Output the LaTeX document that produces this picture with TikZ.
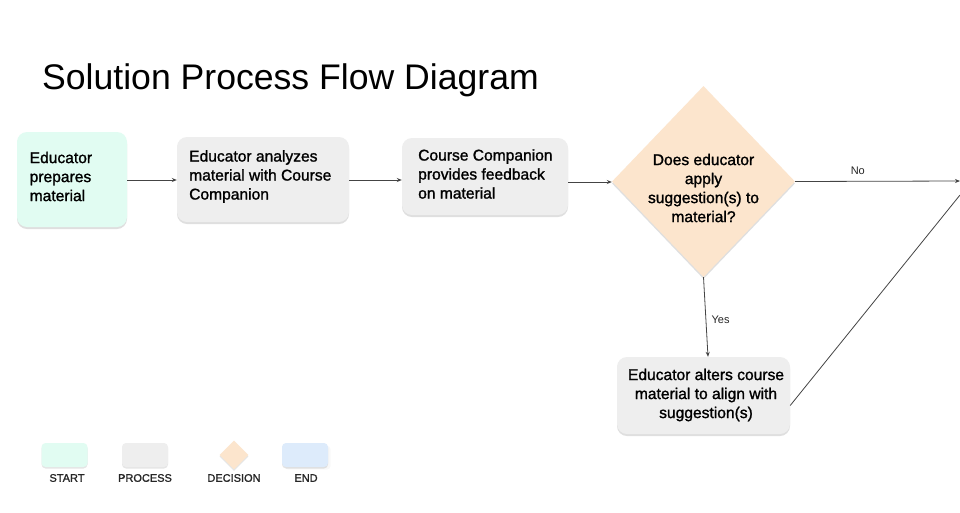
\documentclass[tikz,border=0pt]{standalone}
\usepackage{fontspec}
\setmainfont{Liberation Sans}
\newfontfamily\medfont[FakeBold=1.3]{Liberation Sans}
\usetikzlibrary{shapes.geometric,shadows,arrows.meta}
\definecolor{startc}{HTML}{E1FCF2}
\definecolor{procc}{HTML}{EEEEEE}
\definecolor{decc}{HTML}{FCE5CD}
\definecolor{endc}{HTML}{DDEBFB}
\definecolor{linec}{HTML}{444444}
\tikzset{
  box/.style={draw=none, rounded corners=10pt, inner sep=0pt,
    drop shadow={opacity=0.25, shadow xshift=0pt, shadow yshift=-2pt}},
  boxtext/.style={font=\medfont\fontsize{15.6}{19}\selectfont, inner sep=0pt},
  startbox/.style={box, fill=startc},
  procbox/.style={box, fill=procc},
  decbox/.style={diamond, fill=decc, inner sep=0pt, draw=none,
    drop shadow={opacity=0.25, shadow xshift=0pt, shadow yshift=-2pt}},
  legbox/.style={rounded corners=4pt, minimum width=46pt, minimum height=24pt, inner sep=0pt,
    drop shadow={opacity=0.2, shadow xshift=0pt, shadow yshift=-1.5pt}},
  leglabel/.style={font=\medfont\fontsize{11}{13}\selectfont, text=black!85},
  conn/.style={draw=linec, line width=0.8pt, -{Stealth[length=5pt,width=4pt]}},
  plain/.style={draw=linec, line width=0.8pt},
  edgelabel/.style={font=\fontsize{11}{13}\selectfont, text=black!85}
}
\begin{document}
\begin{tikzpicture}[x=1pt,y=-1pt]
\useasboundingbox (0,0) rectangle (960,512);
\fill[white] (0,0) rectangle (960,512);

\node[anchor=base west, font=\fontsize{35.6}{40}\selectfont, inner sep=0pt] (title) at (42,89) {Solution Process Flow Diagram};

% boxes
\node[startbox, minimum width=110pt, minimum height=95pt] (s) at (72,179.5) {};
\node[procbox, minimum width=172pt, minimum height=85pt] (p1) at (263,179.5) {};
\node[procbox, minimum width=166pt, minimum height=77pt] (p2) at (485,176.5) {};
\node[decbox, minimum width=183pt, minimum height=191pt] (d) at (703.5,181.5) {};
\node[procbox, minimum width=173pt, minimum height=77pt] (a) at (703.5,395.5) {};

% texts
\node[boxtext, anchor=west, align=left] (st) at (29.5,176.5) {Educator\\prepares\\material};
\node[boxtext, anchor=west, align=left] (p1t) at (189,176.5) {Educator analyzes\\material with Course\\Companion};
\node[boxtext, anchor=west, align=left] (p2t) at (418,174) {Course Companion\\provides feedback\\on material};
\node[boxtext, align=center] (dt) at (703.5,188) {Does educator\\apply\\suggestion(s) to\\material?};
\node[boxtext, align=center] (at) at (706,395) {Educator alters course\\material to align with\\suggestion(s)};

\coordinate (noend) at (960,181);
\coordinate (diagend) at (960,195);

\draw[conn] (s.east |- 0,180) -- (p1.west |- 0,180);
\draw[conn] (p1.east |- 0,180) -- (p2.west |- 0,180);
\draw[conn] (p2.east |- 0,182) -- (d.west |- 0,182);
\draw[conn] (d.east) -- node[edgelabel, above=3pt, pos=0.38] (nolab) {No} (noend);
\draw[conn] (d.south) -- node[edgelabel, right=2pt, pos=0.53] (yeslab) {Yes} ([xshift=4.5pt]a.north);
\draw[plain] ([yshift=-10pt]a.east) -- (diagend);

% legend
\node[legbox, fill=startc] (ls) at (64.5,455) {};
\node[legbox, fill=procc] (lp) at (145,455) {};
\node[diamond, fill=decc, minimum width=29pt, minimum height=29pt, inner sep=0pt,
  drop shadow={opacity=0.2, shadow xshift=0pt, shadow yshift=-1.5pt}] (ld) at (234,455) {};
\node[legbox, fill=endc, drop shadow={opacity=0.05}] (le) at (305,455) {};
\node[leglabel] (lst) at (67,478) {START};
\node[leglabel] (lpt) at (145,478) {PROCESS};
\node[leglabel] (ldt) at (234,478) {DECISION};
\node[leglabel] (let) at (306,478) {END};
\end{tikzpicture}
\end{document}
